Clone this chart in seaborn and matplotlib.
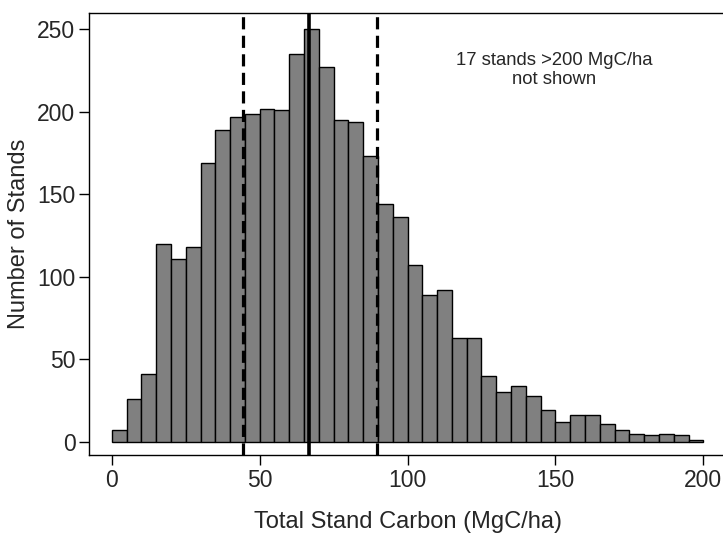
import matplotlib
matplotlib.use("Agg")
from matplotlib import pyplot as plt
import pandas as pd
import seaborn as sns
import numpy as np

# counts per 5 MgC/ha bin, 0-200
bin_edges = np.arange(0, 205, 5)
stand_counts = [7, 26, 41, 120, 111, 118, 169, 189, 197, 199,
                202, 201, 235, 250, 227, 195, 194, 173, 144, 136,
                107, 89, 92, 63, 63, 40, 30, 34, 28, 19,
                12, 16, 16, 11, 7, 5, 4, 5, 4, 1]
# quartiles / median of total stand carbon
q_lower, q_median, q_upper = 44.4, 66.6, 89.8
note = "17 stands >200 MgC/ha\nnot shown"

df = pd.DataFrame({'carbon': bin_edges[:-1] + 2.5, 'n': stand_counts})

sns.set_style("white")
plt.rcParams['font.family'] = ['Liberation Sans', 'DejaVu Sans']

fig = plt.figure(figsize=(7.23, 5.38), dpi=100)
ax = fig.add_axes([0.1235, 0.1543, 0.882, 0.8216])

sns.histplot(data=df, x='carbon', weights='n', binwidth=5, binrange=(0, 200),
             ax=ax, color='#808080', edgecolor='black', linewidth=1.0, alpha=1)

ax.axvline(q_lower, color='black', lw=2.3, ls=(0, (3.8, 2)))
ax.axvline(q_median, color='black', lw=2.6)
ax.axvline(q_upper, color='black', lw=2.3, ls=(0, (3.8, 2)))

ax.text(149.5, 225.5, note, ha='center', va='center', fontsize=13.3,
        linespacing=1.1)

ax.set_xlim(-7.6, 208)
ax.set_ylim(-8, 260)
ax.set_xticks([0, 50, 100, 150, 200])
ax.set_yticks([0, 50, 100, 150, 200, 250])
ax.tick_params(axis='both', direction='out', length=7, width=1,
               labelsize=16.5, pad=3, bottom=True, left=True, color='black')
ax.set_xlabel("Total Stand Carbon (MgC/ha)", fontsize=17, labelpad=14)
ax.set_ylabel("Number of Stands", fontsize=17, labelpad=5)
for s in ax.spines.values():
    s.set_color('black')
    s.set_linewidth(1.0)

fig.savefig('out.png', dpi=100)
plt.close()
